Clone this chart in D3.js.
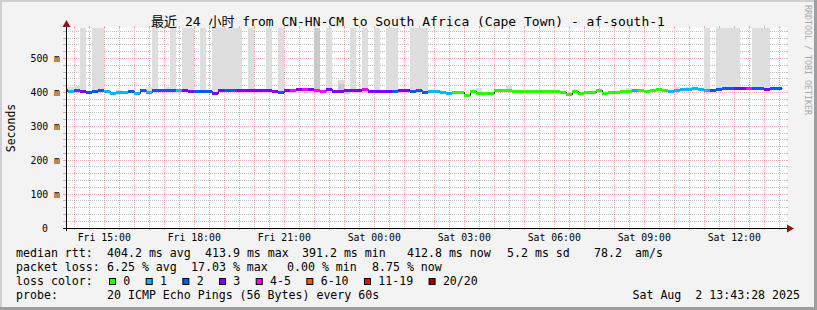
<!DOCTYPE html>
<html>
<head>
<meta charset="utf-8">
<script src="https://cdn.jsdelivr.net/npm/d3@7"></script>
<style>
  body { margin: 0; background: #f3f3f3; }
  svg { display: block; font-family: "DejaVu Sans Mono", "Noto Sans CJK SC", monospace; }
  text { white-space: pre; }
</style>
</head>
<body>
<svg id="chart"></svg>
<script>
// median rtt per 12 min step (ms), Fri 13:48 .. Sat 13:36
const median = [
  407,402,407,404,400,403,405,402,398,400,
  400,402,398,405,401,405,407,405,405,406,
  405,402,403,403,403,398,407,406,405,406,
  406,405,406,406,407,403,401,406,405,410,
  408,409,406,403,410,403,403,405,406,405,
  410,403,403,404,404,403,406,406,403,405,
  401,402,402,400,397,401,399,392,403,397,
  397,397,405,406,406,404,404,404,404,404,
  402,402,402,399,395,404,398,399,399,405,
  396,400,400,402,404,407,405,404,405,409,
  405,403,405,409,410,412,410,407,407,410,
  412,412,412,412,412,412,412,408,413,413
];
// lost pings out of 20
const lossCount = [
  2,1,2,3,2,2,2,1,1,1,
  1,2,1,2,1,2,2,2,2,1,
  3,3,2,2,2,3,3,2,2,3,
  3,3,3,3,3,3,2,3,4,3,
  4,3,4,4,3,3,3,3,3,3,
  4,3,3,3,3,2,3,3,2,2,
  2,1,1,1,1,0,0,0,0,0,
  0,0,0,0,0,0,0,0,0,0,
  0,0,0,0,0,0,0,0,0,0,
  0,0,0,0,0,1,0,0,0,0,
  0,1,1,1,1,1,1,1,2,2,
  2,2,3,3,4,2,2,3,2,2
];
// smoke: highest ping (ms), 700 = off the top of the chart
const smokeMax = [
  416,416,418,700,403,700,700,405,401,406,
  405,405,401,408,417,700,410,417,700,409,
  700,700,406,700,406,700,700,700,700,700,
  409,700,409,409,700,406,700,409,408,413,
  411,412,700,406,700,406,437,408,700,408,
  700,406,700,407,700,700,409,409,700,700,
  700,405,405,403,400,404,402,395,406,412,
  400,400,408,409,420,407,407,407,407,407,
  405,405,405,402,398,407,401,402,402,408,
  399,403,403,405,412,410,410,407,408,412,
  408,406,416,414,416,417,414,700,410,700,
  700,700,700,415,415,700,700,700,416,416
];
// smoke: second highest ping (ms)
const smokeMid = [
  409,404,409,406,402,405,407,404,400,402,
  402,404,400,407,403,407,409,407,407,408,
  407,404,405,405,405,400,409,408,407,408,
  408,407,408,408,409,405,403,408,407,412,
  410,411,700,405,412,405,425,407,408,407,
  412,405,405,406,406,405,408,408,405,407,
  403,404,404,402,399,403,401,394,405,399,
  399,399,407,408,408,406,406,406,406,406,
  404,404,404,401,397,406,400,401,401,407,
  398,402,402,404,406,409,407,406,407,411,
  407,405,407,411,412,414,412,409,409,412,
  414,414,414,414,414,414,414,410,415,415
];
// smoke: lowest ping (ms)
const smokeMin = [
  404,399,404,401,397,400,402,399,395,397,
  397,399,395,402,398,402,404,402,402,403,
  402,399,400,400,400,395,404,403,402,403,
  403,402,403,403,404,400,398,403,402,407,
  405,406,403,400,407,400,400,396,403,402,
  407,400,400,401,401,400,403,403,400,402,
  398,399,399,397,394,398,396,389,400,394,
  394,394,402,403,403,401,401,401,401,401,
  399,399,399,396,392,401,395,396,396,402,
  393,397,397,399,401,404,402,401,402,406,
  402,400,402,406,407,409,407,404,404,407,
  409,409,409,409,409,409,409,405,410,410
];
const lossLabels = ["0", "1", "2", "3", "4-5", "6-10", "11-19", "20/20"];
const lossColors = ["#26ff00", "#00b8ff", "#0059ff", "#7e00ff", "#ff00ff", "#ff5500", "#ff0000", "#a10000"];
const yTicks = [0, 100, 200, 300, 400, 500];

const W = 817, H = 310;
const plotL = 66, plotR = 786, plotT = 28, plotB = 228;

const endTime = new Date(Date.UTC(2025, 7, 2, 13, 43, 28));
const startTime = new Date(+endTime - 864e5);
const firstStepEnd = Date.UTC(2025, 7, 1, 13, 48);
const stepMs = 12 * 60e3;

const lossClass = n => n <= 3 ? n : n <= 5 ? 4 : n <= 10 ? 5 : n <= 19 ? 6 : 7;

const pts = median.map((m, i) => ({
  t0: new Date(firstStepEnd + (i - 1) * stepMs),
  t1: new Date(firstStepEnd + i * stepMs),
  m: m, loss: lossCount[i], lo: smokeMin[i], mid: smokeMid[i], hi: smokeMax[i]
}));

const x = d3.scaleUtc().domain([startTime, endTime]).range([plotL, plotR]);
const y = d3.scaleLinear().domain([0, 590]).range([plotB, plotT]);
const px = v => Math.floor(v) + 0.5;

const svg = d3.select("#chart").attr("width", W).attr("height", H);

// frame
svg.append("rect").attr("width", W).attr("height", H).attr("fill", "#f3f3f3");
svg.append("path").attr("fill", "#cfcfcf")
  .attr("d", `M0,0H${W}V2H2V${H}H0Z`);
svg.append("path").attr("fill", "#9e9e9e")
  .attr("d", `M${W},${H}H0V${H - 3}H${W - 3}V0H${W}Z`);

// canvas
svg.append("rect").attr("x", plotL + 1).attr("y", plotT).attr("width", plotR - plotL).attr("height", plotB - plotT).attr("fill", "#fff");

svg.append("clipPath").attr("id", "plot")
  .append("rect").attr("x", plotL + 1).attr("y", plotT).attr("width", plotR - plotL).attr("height", plotB - plotT);

// grid (behind the data)
const grid = svg.append("g");
const minorCol = "rgba(120,120,120,0.45)", majorCol = "rgba(255,60,60,0.42)";
function vline(t, col) {
  const gx = px(x(t));
  grid.append("line").attr("x1", gx).attr("x2", gx).attr("y1", plotT).attr("y2", plotB)
    .attr("stroke", col).attr("stroke-dasharray", "1,1");
  grid.append("line").attr("x1", gx).attr("x2", gx).attr("y1", plotB).attr("y2", plotB + 2).attr("stroke", col);
  grid.append("line").attr("x1", gx).attr("x2", gx).attr("y1", plotT - 2).attr("y2", plotT).attr("stroke", col);
}
function hline(v, col) {
  const gy = px(y(v));
  grid.append("line").attr("x1", plotL).attr("x2", plotR).attr("y1", gy).attr("y2", gy)
    .attr("stroke", col).attr("stroke-dasharray", "1,1");
  grid.append("line").attr("x1", plotL - 3).attr("x2", plotL).attr("y1", gy).attr("y2", gy).attr("stroke", col);
  grid.append("line").attr("x1", plotR).attr("x2", plotR + 2).attr("y1", gy).attr("y2", gy).attr("stroke", col);
}
d3.utcMinute.every(30).range(startTime, endTime)
  .filter(t => t.getUTCMinutes() !== 0)
  .forEach(t => vline(t, minorCol));
d3.utcHour.range(startTime, endTime).forEach(t => vline(t, majorCol));
d3.range(20, 590, 20).filter(v => v % 100 !== 0).forEach(v => hline(v, minorCol));
yTicks.filter(v => v > 0).forEach(v => hline(v, majorCol));

const plot = svg.append("g").attr("clip-path", "url(#plot)");

// smoke
const sx0 = d => Math.round(Math.max(x(d.t0), plotL + 1));
const sx1 = d => Math.round(x(d.t1));
plot.append("g").selectAll("rect").data(pts).join("rect")
  .attr("x", sx0).attr("width", d => sx1(d) - sx0(d))
  .attr("y", d => Math.round(y(d.hi))).attr("height", d => Math.round(y(d.lo)) - Math.round(y(d.hi)))
  .attr("fill", "#dddddd");
plot.append("g").selectAll("rect").data(pts).join("rect")
  .attr("x", sx0).attr("width", d => sx1(d) - sx0(d))
  .attr("y", d => Math.round(y(d.mid))).attr("height", d => Math.max(0, Math.round(y(d.lo)) - Math.round(y(d.mid))))
  .attr("fill", "#cacaca");

// median: thin dark line under the loss-coloured band
const last = pts[pts.length - 1];
const stepPts = pts.map(d => [x(d.t0), y(d.m)]).concat([[x(last.t1), y(last.m)]]);
plot.append("path")
  .attr("d", d3.line().x(d => Math.round(d[0]) + 0.5).y(d => px(d[1])).curve(d3.curveStepAfter)(stepPts))
  .attr("fill", "none").attr("stroke", "#202020").attr("stroke-width", 1);
plot.append("g").selectAll("rect").data(pts).join("rect")
  .attr("x", sx0).attr("width", d => sx1(d) - sx0(d))
  .attr("y", d => Math.round(y(d.m) - 1.5)).attr("height", 3)
  .attr("fill", d => lossColors[lossClass(d.loss)]);

// axes
const axisG = svg.append("g");
axisG.append("line").attr("x1", plotL - 3).attr("x2", plotR + 4).attr("y1", plotB + 0.5).attr("y2", plotB + 0.5).attr("stroke", "#000");
axisG.append("line").attr("x1", plotL + 0.5).attr("x2", plotL + 0.5).attr("y1", plotB + 3).attr("y2", plotT - 4).attr("stroke", "#000");
axisG.append("path").attr("fill", "#8c1414").attr("d", `M${plotR + 1},${plotB - 3.5}L${plotR + 8},${plotB + 0.5}L${plotR + 1},${plotB + 4.5}Z`);
axisG.append("path").attr("fill", "#8c1414").attr("d", `M${plotL - 3.5},${plotT - 1}L${plotL + 0.5},${plotT - 8}L${plotL + 4.5},${plotT - 1}Z`);

// tick labels
svg.append("g").attr("font-size", "9.8px").attr("text-anchor", "middle")
  .selectAll("text").data(d3.utcHour.every(3).range(startTime, endTime)).join("text")
  .attr("x", d => x(d)).attr("y", 240.5)
  .text(d => d3.utcFormat("%a %H:%M")(d));
svg.append("g").attr("font-size", "9.8px").attr("text-anchor", "end")
  .selectAll("text").data(yTicks).join("text")
  .attr("x", d => d === 0 ? 48 : 60).attr("y", d => y(d) + 3.5)
  .text(d => d === 0 ? "0" : d + " m");

svg.append("text").attr("font-size", "11.5px").attr("text-anchor", "middle")
  .attr("transform", "translate(15,128) rotate(-90)").text("Seconds");

svg.append("text").attr("font-size", "13px").attr("text-anchor", "middle")
  .attr("x", 408).attr("y", 26)
  .text("最近 24 小时 from CN-HN-CM to South Africa (Cape Town) - af-south-1");

svg.append("text").attr("font-size", "8.3px").attr("fill", "#a8a8a8")
  .attr("transform", "translate(805,5) rotate(90)").text("RRDTOOL / TOBI OETIKER");

// legend
const leg = svg.append("g").attr("font-size", "11.6px").attr("fill", "#000");
const put = (lx, ly, s) => leg.append("text").attr("x", lx).attr("y", ly).text(s);
put(16, 257, "median rtt:");
put(107, 257, "404.2 ms avg");
put(205, 257, "413.9 ms max");
put(302, 257, "391.2 ms min");
put(407, 257, "412.8 ms now");
put(507, 257, "5.2 ms sd");
put(594, 257, "78.2");
put(635, 257, "am/s");

put(16, 271, "packet loss:");
put(107, 271, "6.25 % avg");
put(191, 271, "17.03 % max");
put(287, 271, "0.00 % min");
put(372, 271, "8.75 % now");

put(16, 285, "loss color:");
let bx = 109;
lossLabels.forEach((lab, i) => {
  leg.append("rect").attr("x", bx + 0.5).attr("y", 278.5).attr("width", 6).attr("height", 6)
    .attr("fill", lossColors[i]).attr("stroke", "#000");
  put(bx + 14.3, 285, lab);
  bx += 14.3 + lab.length * 6.98 + 15.4;
});

put(16, 299, "probe:");
put(107, 299, "20 ICMP Echo Pings (56 Bytes) every 60s");
leg.append("text").attr("x", 800).attr("y", 299).attr("text-anchor", "end").text("Sat Aug  2 13:43:28 2025");
</script>
</body>
</html>
